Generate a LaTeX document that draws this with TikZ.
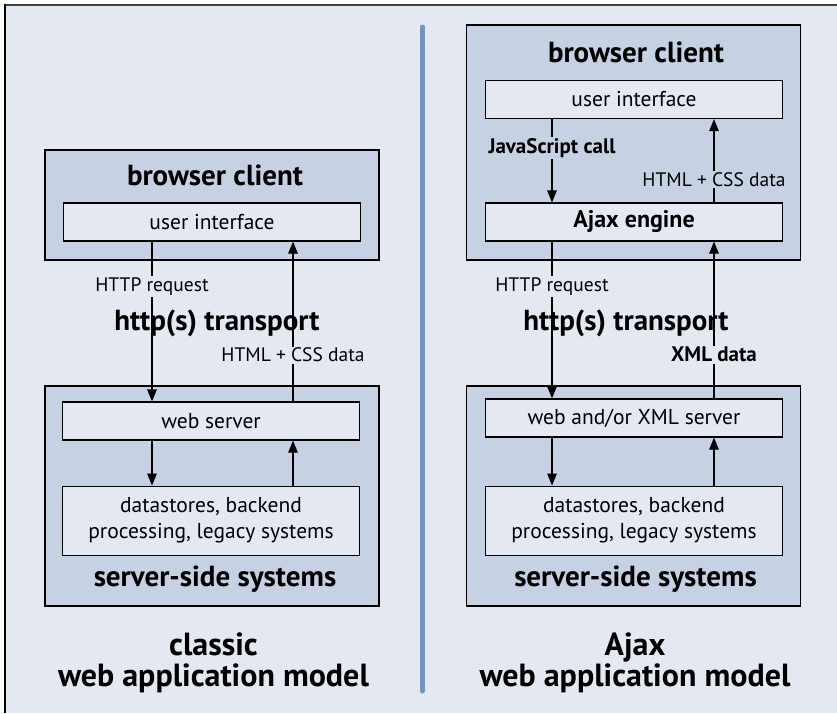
\documentclass[tikz,border=0pt]{standalone}
\usepackage{fontspec}
\setmainfont{PT Sans}
\usetikzlibrary{arrows.meta,positioning}
\definecolor{bgblue}{HTML}{E3E8F1}
\definecolor{boxblue}{HTML}{C6D1E3}
\definecolor{divider}{HTML}{7A92C0}
\begin{document}
\begin{tikzpicture}[x=1pt, y=1pt, node distance=45pt,
  group/.style = {draw, line width=1.2pt, fill=boxblue, minimum width=334pt},
  layer/.style = {draw, line width=1.2pt, fill=bgblue, minimum width=297pt, minimum height=38pt, align=center, font=\fontsize{21.5}{26}\selectfont},
  head/.style = {font=\fontsize{29}{32}\selectfont\bfseries},
  modeltitle/.style = {align=center, font=\fontsize{32}{31}\selectfont\bfseries},
  lbl/.style = {inner sep=1.5pt, fill=bgblue, font=\fontsize{19.5}{22}\selectfont},
  boldlbl/.style = {lbl, font=\fontsize{21}{23}\selectfont\bfseries},
  arr/.style = {line width=1.2pt, -{Triangle[length=12pt,width=9.5pt]}}]
  \useasboundingbox (0,0) rectangle (837,-713);
  \fill[bgblue] (5,-5) rectangle (837,-713);
  \draw[line width=2pt, black!75] (4,-5) -- (837,-5);
  \draw[line width=1.5pt] (5,-4) -- (5,-713);
  \draw[divider, line width=5pt, line cap=round] (422.5,-27) -- (422.5,-691);

  % classic model
  \node[group, minimum height=110pt] (lbrowser) at (212,-205) {};
  \node[head] (lbtitle) at (215,-175) {browser client};
  \node[layer] (lui) at (212,-222) {user interface};
  \node[group, minimum height=220pt] (lserver) at (212,-496) {};
  \node[layer] (lws) at (211,-421) {web server};
  \node[layer, minimum height=69pt] (lds) [below=45pt of lws] {datastores, backend\\processing, legacy systems};
  \node[head] (lstitle) at (215,-579) {server-side systems};
  \node[modeltitle] (lmodel) at (213.5,-663) {classic\\web application model};
  \coordinate (ldn) at (152,0);
  \coordinate (lup) at (293,0);
  \draw[arr] (lui.south -| ldn) -- node[lbl, pos=0.28] {HTTP request} (lws.north -| ldn);
  \draw[arr] (lws.north -| lup) -- node[lbl, pos=0.29] {HTML + CSS data} (lui.south -| lup);
  \draw[arr] (lws.south -| ldn) -- (lds.north -| ldn);
  \draw[arr] (lds.north -| lup) -- (lws.south -| lup);
  \node[head] (ltransport) at (217,-323) {http(s) transport};

  % Ajax model
  \node[group, minimum height=235pt] (rbrowser) at (633.5,-142.5) {};
  \node[head] (rbtitle) at (636,-52) {browser client};
  \node[layer] (rui) at (634,-99.5) {user interface};
  \node[layer, font=\fontsize{24}{26}\selectfont\bfseries] (rajax) at (634,-222) {Ajax engine};
  \node[group, minimum height=220pt] (rserver) at (633.5,-496) {};
  \node[layer] (rws) at (634,-418) {web and/or XML server};
  \node[layer, minimum height=69pt] (rds) [below=48pt of rws] {datastores, backend\\processing, legacy systems};
  \node[head] (rstitle) at (635.5,-579) {server-side systems};
  \node[modeltitle] (rmodel) at (635,-663) {Ajax\\web application model};
  \coordinate (rdn) at (552,0);
  \coordinate (rup) at (714,0);
  \draw[arr] (rui.south -| rdn) -- node[boldlbl, pos=0.35, fill=boxblue] {JavaScript call} (rajax.north -| rdn);
  \draw[arr] (rajax.north -| rup) -- node[lbl, pos=0.27, fill=boxblue] {HTML + CSS data} (rui.south -| rup);
  \draw[arr] (rajax.south -| rdn) -- node[lbl, pos=0.285] {HTTP request} (rws.north -| rdn);
  \draw[arr] (rws.north -| rup) -- node[boldlbl, pos=0.28] {XML data} (rajax.south -| rup);
  \draw[arr] (rws.south -| rdn) -- (rds.north -| rdn);
  \draw[arr] (rds.north -| rup) -- (rws.south -| rup);
  \node[head] (rtransport) at (626,-323) {http(s) transport};
\end{tikzpicture}
\end{document}
